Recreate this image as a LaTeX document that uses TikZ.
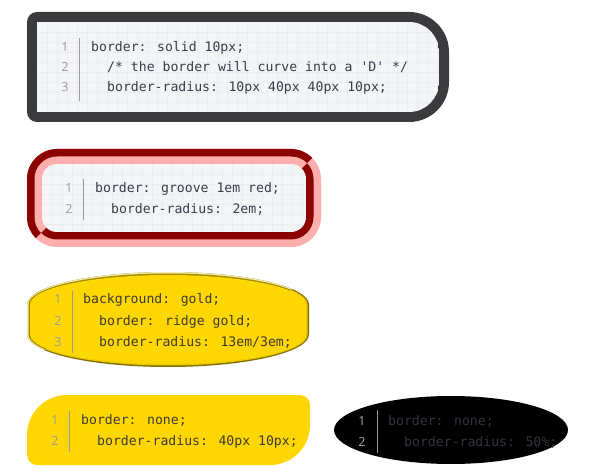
\documentclass[tikz,border=0pt]{standalone}
\usepackage{fontspec}
\newfontfamily\codefont{DejaVu Sans Mono}
\newfontfamily\numfont{Open Sans}
\definecolor{bgcol}{HTML}{F4F5F7}
\definecolor{gridcol}{HTML}{EBEDF0}
\definecolor{darkborder}{HTML}{3B3B3D}
\definecolor{grvdark}{HTML}{8B0000}
\definecolor{grvpink}{HTML}{FFAEAE}
\definecolor{goldc}{HTML}{FFD700}
\definecolor{rtlout}{HTML}{F5EBA8}
\definecolor{rtlin}{HTML}{A08A00}
\definecolor{rbrout}{HTML}{826F00}
\definecolor{rbrin}{HTML}{EBC800}
\definecolor{codecol}{HTML}{363C48}
\definecolor{goldcode}{HTML}{3C3A30}
\definecolor{blkcode}{HTML}{30353D}
\definecolor{numcol}{HTML}{999999}
\definecolor{sepcol}{HTML}{9A9A9A}
\newcommand\rr[8]{(#1+#5,#2) -- (#3-#6,#2) arc[start angle=90,end angle=0,radius=#6pt] -- (#3,#4-#7) arc[start angle=0,end angle=-90,radius=#7pt] -- (#1+#8,#4) arc[start angle=-90,end angle=-180,radius=#8pt] -- (#1,#2+#5) arc[start angle=180,end angle=90,radius=#5pt] -- cycle}
\newcommand\ovalshape[6]{(#1,#2+#6) arc[start angle=180,end angle=0,x radius=#5pt,y radius=#6pt] -- (#3,#4-#6) arc[start angle=0,end angle=-180,x radius=#5pt,y radius=#6pt] -- cycle}
\tikzset{
  codetxt/.style={font=\codefont\fontsize{13.15}{15}\selectfont, text=codecol, inner sep=0pt, anchor=base west},
  numtxt/.style={font=\numfont\fontsize{12.5}{14}\selectfont, text=numcol, inner sep=0pt, anchor=base},
  sepline/.style={draw=sepcol, line width=1pt},
  gridline/.style={draw=gridcol, line width=0.5pt},
}
\begin{document}
\begin{tikzpicture}[x=1pt,y=-1pt]
\fill[white] (0,0) rectangle (592,473);
\useasboundingbox (0,0) rectangle (592,473);

% ---------- Box 1 ----------
\fill[darkborder] \rr{27}{12}{449}{122}{10}{40}{40}{10};
\begin{scope}
  \clip \rr{37}{22}{439}{112}{0.01}{30}{30}{0.01};
  \fill[bgcol] (37,22) rectangle (439,112);
  \foreach \x in {47,57,...,437} \draw[gridline] (\x,22) -- (\x,112);
  \foreach \y in {32,42,...,112} \draw[gridline] (37,\y) -- (439,\y);
\end{scope}
\node[numtxt] (n1a) at (65,52) {1};
\node[numtxt] (n1b) at (65,72) {2};
\node[numtxt] (n1c) at (65,92) {3};
\coordinate (s1t) at (79,38);
\coordinate (s1b) at (79,101);
\draw[sepline] (s1t) -- (s1b);
\node[codetxt] (c1a) at (91,52) {border: solid 10px;};
\node[codetxt] (c1b) at (107,72) {/* the border will curve into a \textquotesingle D\textquotesingle{} */};
\node[codetxt] (c1c) at (107,92) {border-radius: 10px 40px 40px 10px;};

% ---------- Box 2 (groove) ----------
\fill[grvpink] \rr{27}{149}{321}{247}{30}{30}{30}{30};
\fill[grvdark] \rr{34.5}{156.5}{313.5}{239.5}{22.5}{22.5}{22.5}{22.5};
\begin{scope}
  \clip (7,267) -- (52,222) -- (296,174) -- (341,129) -- (7,129) -- cycle;
  \fill[grvdark] \rr{27}{149}{321}{247}{30}{30}{30}{30};
  \fill[grvpink] \rr{34.5}{156.5}{313.5}{239.5}{22.5}{22.5}{22.5}{22.5};
\end{scope}
\begin{scope}
  \clip \rr{42}{164}{306}{232}{15}{15}{15}{15};
  \fill[bgcol] (42,164) rectangle (306,232);
  \foreach \x in {52,62,...,302} \draw[gridline] (\x,164) -- (\x,232);
  \foreach \y in {174,184,...,232} \draw[gridline] (42,\y) -- (306,\y);
\end{scope}
\node[numtxt] (n2a) at (69,192.5) {1};
\node[numtxt] (n2b) at (69,214) {2};
\coordinate (s2t) at (83,179);
\coordinate (s2b) at (83,220);
\draw[sepline] (s2t) -- (s2b);
\node[codetxt] (c2a) at (95,192.5) {border: groove 1em red;};
\node[codetxt] (c2b) at (111,214) {border-radius: 2em;};

% ---------- Box 3 (ridge gold oval) ----------
\fill[rbrout] \ovalshape{27}{272}{309}{367}{141}{32.5};
\fill[rbrin] \ovalshape{28.5}{273.5}{307.5}{365.5}{139.5}{31};
\begin{scope}
  \clip (7,387) -- (80,314) -- (260,321) -- (329,252) -- (7,252) -- cycle;
  \fill[rtlout] \ovalshape{27}{272}{309}{367}{141}{32.5};
  \fill[rtlin] \ovalshape{28.5}{273.5}{307.5}{365.5}{139.5}{31};
\end{scope}
\fill[goldc] \ovalshape{30}{275}{306}{364}{138}{29.5};
\node[numtxt] (n3a) at (58,304) {1};
\node[numtxt] (n3b) at (58,325) {2};
\node[numtxt] (n3c) at (58,346) {3};
\coordinate (s3t) at (72,291);
\coordinate (s3b) at (72,353);
\draw[sepline] (s3t) -- (s3b);
\node[codetxt, text=goldcode] (c3a) at (83,304) {background: gold;};
\node[codetxt, text=goldcode] (c3b) at (99,325) {border: ridge gold;};
\node[codetxt, text=goldcode] (c3c) at (99,346) {border-radius: 13em/3em;};

% ---------- Box 4 (gold, no border) ----------
\fill[goldc] \rr{27}{395}{310}{465}{40}{10}{40}{10};
\node[numtxt] (n4a) at (55,424) {1};
\node[numtxt] (n4b) at (55,445) {2};
\coordinate (s4t) at (69,411);
\coordinate (s4b) at (69,452);
\draw[sepline] (s4t) -- (s4b);
\node[codetxt, text=goldcode] (c4a) at (81,424) {border: none;};
\node[codetxt, text=goldcode] (c4b) at (97,445) {border-radius: 40px 10px;};

% ---------- Box 5 (black ellipse) ----------
\fill[black] (451,430) ellipse [x radius=117pt, y radius=34pt];
\node[numtxt, text=numcol!85!white] (n5a) at (362,425.5) {1};
\node[numtxt, text=numcol!85!white] (n5b) at (362,446.5) {2};
\coordinate (s5t) at (377,410);
\coordinate (s5b) at (377,453);
\draw[sepline] (s5t) -- (s5b);
\node[codetxt, text=blkcode] (c5a) at (388,425.5) {border: none;};
\node[codetxt, text=blkcode] (c5b) at (404,446.5) {border-radius: 50\%;};
\end{tikzpicture}
\end{document}
